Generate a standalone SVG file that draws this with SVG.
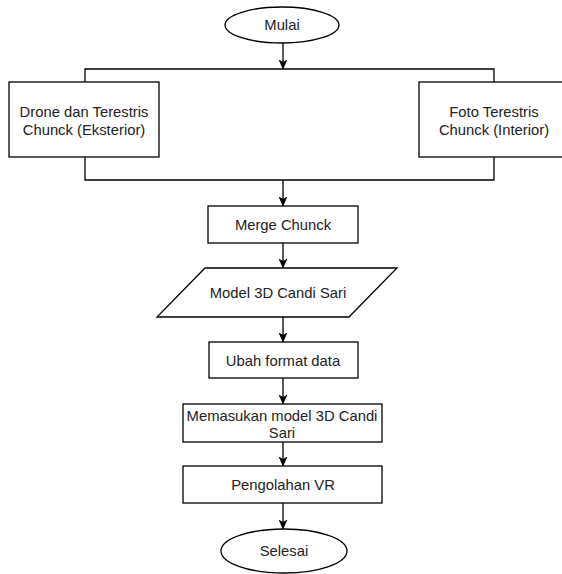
<svg xmlns="http://www.w3.org/2000/svg" width="562" height="574" viewBox="0 0 562 574">
<style>
.s{fill:#fff;stroke:#000;stroke-width:1.3}
.c{fill:none;stroke:#000;stroke-width:1.3}
text{font-family:"Liberation Sans",Arial,sans-serif;font-size:14.8px;fill:#222;text-anchor:middle}
</style>
<defs>
<marker id="a" viewBox="0 0 10 10" refX="9.5" refY="5" markerWidth="10" markerHeight="10" markerUnits="userSpaceOnUse" orient="auto">
<path d="M0,0.5 L10,5 L0,9.5 L2.5,5 Z" fill="#000"/>
</marker>
</defs>
<rect width="562" height="574" fill="#fff"/>
<g id="connectors">
<path class="c" d="M283,43 V69" marker-end="url(#a)"/>
<path class="c" d="M85,82 V69 H494 V82"/>
<path class="c" d="M85,157 V180 H494 V157"/>
<path class="c" d="M283,180 V206" marker-end="url(#a)"/>
<path class="c" d="M283,243 V268" marker-end="url(#a)"/>
<path class="c" d="M283,317 V342" marker-end="url(#a)"/>
<path class="c" d="M283,378 V404" marker-end="url(#a)"/>
<path class="c" d="M283,442 V466" marker-end="url(#a)"/>
<path class="c" d="M283,503 V529" marker-end="url(#a)"/>
</g>
<g id="mulai">
<ellipse class="s" cx="282" cy="25" rx="57" ry="18"/>
<text x="282" y="30">Mulai</text>
</g>
<g id="drone">
<rect class="s" x="9" y="82" width="150" height="75"/>
<text x="84" y="117">Drone dan Terestris</text>
<text x="84" y="135">Chunck (Eksterior)</text>
</g>
<g id="foto">
<rect class="s" x="419" y="82" width="150" height="75"/>
<text x="494" y="117">Foto Terestris</text>
<text x="494" y="135">Chunck (Interior)</text>
</g>
<g id="merge">
<rect class="s" x="208" y="206" width="150" height="37"/>
<text x="283" y="230">Merge Chunck</text>
</g>
<g id="model">
<polygon class="s" points="205,268 397,268 349,317 157,317"/>
<text x="278" y="298">Model 3D Candi Sari</text>
</g>
<g id="ubah">
<rect class="s" x="209" y="342" width="149" height="36"/>
<text x="283" y="366">Ubah format data</text>
</g>
<g id="memasukan">
<rect class="s" x="183" y="404" width="199" height="38"/>
<text x="282" y="421">Memasukan model 3D Candi</text>
<text x="282" y="438">Sari</text>
</g>
<g id="vr">
<rect class="s" x="183" y="466" width="199" height="37"/>
<text x="283" y="490">Pengolahan VR</text>
</g>
<g id="selesai">
<ellipse class="s" cx="284" cy="551" rx="63" ry="22"/>
<text x="284" y="556">Selesai</text>
</g>
</svg>
